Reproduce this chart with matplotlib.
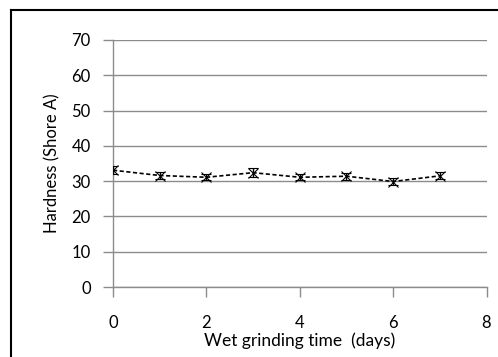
import matplotlib.pyplot as plt
from matplotlib.lines import Line2D

# Wet grinding time (days) vs hardness (Shore A)
days = [0, 1, 2, 3, 4, 5, 6, 7]
hardness = [33.1, 31.6, 31.1, 32.4, 31.1, 31.4, 29.9, 31.5]
errors = [1.1, 1.0, 0.9, 1.2, 0.9, 1.0, 1.1, 1.0]

plt.rcParams['font.family'] = ['Lato', 'DejaVu Sans']

fig = plt.figure(figsize=(4.98, 3.57), dpi=100)
ax = fig.add_axes([0.227, 0.196, 0.75, 0.692])

grid_col = '#8c8c8c'
ax.set_axisbelow(True)
ax.grid(axis='y', color=grid_col, linewidth=1)

ax.errorbar(days, hardness, yerr=errors, fmt='x', color='black',
            markersize=7, markeredgewidth=0.8, ecolor='black',
            elinewidth=1, capsize=3.5, capthick=1.5, zorder=3)
ax.plot(days, hardness, linestyle=(0, (2.5, 1.5)), color='black',
        linewidth=1.2, zorder=3)

ax.set_xlim(0, 8)
ax.set_ylim(0, 70)
ax.set_xticks([0, 2, 4, 6, 8])
ax.set_yticks(range(0, 71, 10))

for s in ['top', 'right']:
    ax.spines[s].set_visible(False)
for s in ['left', 'bottom']:
    ax.spines[s].set_color(grid_col)
    ax.spines[s].set_linewidth(1)

ax.tick_params(axis='both', colors=grid_col, length=7, width=1,
               labelcolor='black', labelsize=12)
ax.tick_params(axis='x', pad=13)
ax.tick_params(axis='y', pad=9)

ax.set_xlabel('Wet grinding time  (days)', fontsize=12.5, labelpad=1)
ax.set_ylabel('Hardness (Shore A)', fontsize=12, labelpad=8)

# outer frame of the original figure
fig.add_artist(Line2D([11 / 498, 11 / 498], [0, 1 - 10 / 357], color='black',
                      linewidth=1.5, transform=fig.transFigure))
fig.add_artist(Line2D([11 / 498, 1], [1 - 10 / 357, 1 - 10 / 357], color='black',
                      linewidth=1.5, transform=fig.transFigure))

fig.savefig('out.png', dpi=100)
